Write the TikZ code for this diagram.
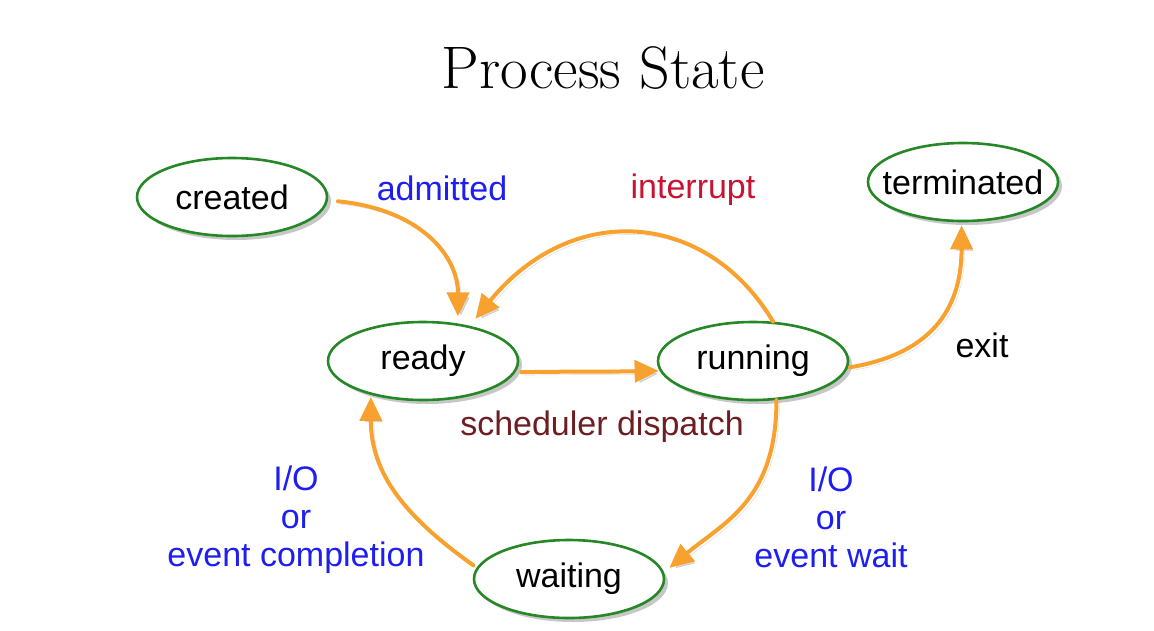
\documentclass[tikz,border=0pt]{standalone}
\usepackage{fontspec}
\setsansfont{Liberation Sans}
\usetikzlibrary{arrows.meta,shapes.geometric,shadows}
\definecolor{arrorange}{RGB}{249,161,46}
\definecolor{stgreen}{RGB}{38,135,38}
\definecolor{lblblue}{RGB}{30,30,240}
\definecolor{lblred}{RGB}{200,20,50}
\definecolor{lblmaroon}{RGB}{110,30,35}
\tikzset{
  state/.style={ellipse, draw=stgreen, line width=2.6pt, fill=white,
    minimum width=190pt, minimum height=78pt, inner xsep=-30pt, inner ysep=0pt,
    font=\sffamily\fontsize{34}{40}\selectfont,
    drop shadow={shadow xshift=4pt, shadow yshift=-4pt, opacity=0.22, fill=black}},
  lbl/.style={font=\sffamily\fontsize{34}{38}\selectfont, align=center, inner sep=0pt},
  conn/.style={draw=arrorange, line width=4pt, line cap=round,
    -{Triangle[length=24pt,width=22pt]},
    preaction={draw=black, opacity=0.15, transform canvas={shift={(3pt,-3pt)}}}}
}
\begin{document}
\begin{tikzpicture}[x=1pt,y=-1pt]
\useasboundingbox (0,0) rectangle (1154,630);
\node[font=\rmfamily\fontsize{60}{70}\selectfont, inner sep=0pt] (title) at (603,68) {Process State};
\node[state] (created) at (232,197) {created};
\node[state] (ready) at (423,361) {ready};
\node[state] (running) at (753,361) {running};
\node[state] (terminated) at (963,182) {terminated};
\node[state] (waiting) at (569,579) {waiting};

\node[lbl, text=lblblue] (admitted) at (442,188) {admitted};
\node[lbl, text=lblred] (interrupt) at (693,190) {interrupt};
\node[lbl, text=black] (exit) at (982,345) {exit};
\node[lbl, text=lblmaroon] (sched) at (602,427) {scheduler dispatch};
\node[lbl, text=lblblue] (iocomp) at (296,520) {I/O\\or\\event completion};
\node[lbl, text=lblblue] (iowait) at (831,517) {I/O\\or\\event wait};

\draw[conn, shorten <=10pt, shorten >=7pt] (created.-2) .. controls +(92,9) and +(0,-68) .. (ready.47);
\draw[conn, shorten >=9pt] (running.63) .. controls +(-67,-112) and +(102,-125) .. (ready.37);
\draw[conn, shorten <=6pt, shorten >=1pt] (ready.-7) .. controls +(50,-1) and +(-50,1) .. (running.186);
\draw[conn, shorten <=2pt, shorten >=3pt] (running.-4) .. controls +(90,-15) and +(0,80) .. (terminated.-92);
\draw[conn, shorten >=7pt] (running.-59) .. controls +(0,100) and +(60,-50) .. (waiting.4);
\draw[conn, shorten <=4pt, shorten >=2pt] (waiting.173) .. controls +(-70,-50) and +(0,80) .. (ready.213);
\end{tikzpicture}
\end{document}
